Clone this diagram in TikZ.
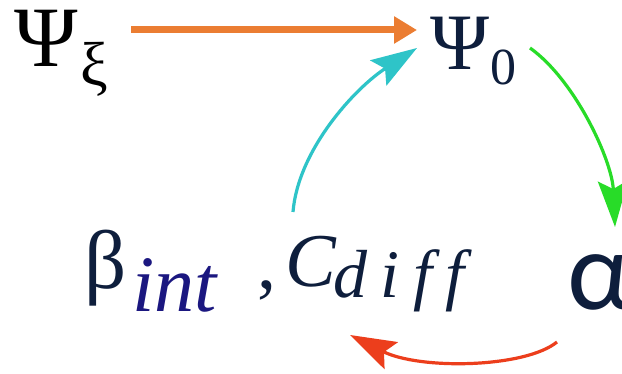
\documentclass[tikz,border=0pt]{standalone}
\usepackage{fontspec}
\setmainfont{Liberation Serif}
\newfontfamily\alphafont{Carlito}
\newfontfamily\diffit{Liberation Serif}[LetterSpace=20]
\usetikzlibrary{arrows.meta}
\definecolor{navy}{RGB}{14,30,60}
\definecolor{intblue}{RGB}{27,23,128}
\definecolor{arrorange}{RGB}{235,125,50}
\definecolor{arrgreen}{RGB}{40,220,40}
\definecolor{arrcyan}{RGB}{46,196,200}
\definecolor{arrred}{RGB}{236,62,28}
\begin{document}
\begin{tikzpicture}[x=1pt,y=-1pt,
  txt/.style={inner sep=0pt, anchor=base west},
  thinarrow/.style={line width=3.2pt, -{Stealth[length=46pt, width=30pt, inset=8pt]}},
  thickarrow/.style={line width=7pt, draw=arrorange, -{Triangle[length=23pt, width=26pt]}}]
\useasboundingbox[fill=white] (0,0) rectangle (622,374);
% texts
\node[txt, text=black, font=\fontsize{86}{90}\selectfont] (psixi) at (14,67) {Ψ};
\node[txt, text=black, font=\fontsize{62}{64}\selectfont] (xi) at (80,86) {ξ};
\node[txt, text=navy, font=\fontsize{80}{84}\selectfont] (psizero) at (430,70) {Ψ};
\node[txt, text=navy, font=\fontsize{52}{56}\selectfont] (zero) at (490,85) {0};
\node[txt, text=navy, font=\fontsize{83}{88}\selectfont] (beta) at (84,289) {β};
\node[txt, text=intblue, font=\fontsize{80}{84}\selectfont\itshape] (int) at (132,312) {int};
\node[txt, text=navy, font=\fontsize{76}{80}\selectfont] (comma) at (257,289) {,};
\node[txt, text=navy, font=\fontsize{76}{80}\selectfont\itshape] (cc) at (285,287) {C};
\node[txt, text=navy, font=\diffit\fontsize{68}{72}\selectfont\itshape] (diff) at (333,298) {diff};
\node[txt, text=navy, font=\alphafont\fontsize{113}{118}\selectfont] (alpha) at (567,310) {α};
% arrows
\draw[thickarrow] ([shift={(117,-37)}]psixi.base west) -- ([shift={(-13,-40)}]psizero.base west);
\draw[thinarrow, draw=arrgreen]
  ([shift={(100,-22)}]psizero.base west) .. controls (575,80) and (612,160) .. ([shift={(48,-83)}]alpha.base west);
\draw[thinarrow, draw=arrred]
  ([shift={(-10,32)}]alpha.base west) .. controls (525,368) and (420,370) .. ([shift={(17,37)}]diff.base west);
\draw[thinarrow, draw=arrcyan]
  ([shift={(36,-77)}]comma.base west) .. controls (298,150) and (355,88) .. ([shift={(-13,-22)}]psizero.base west);
\end{tikzpicture}
\end{document}
